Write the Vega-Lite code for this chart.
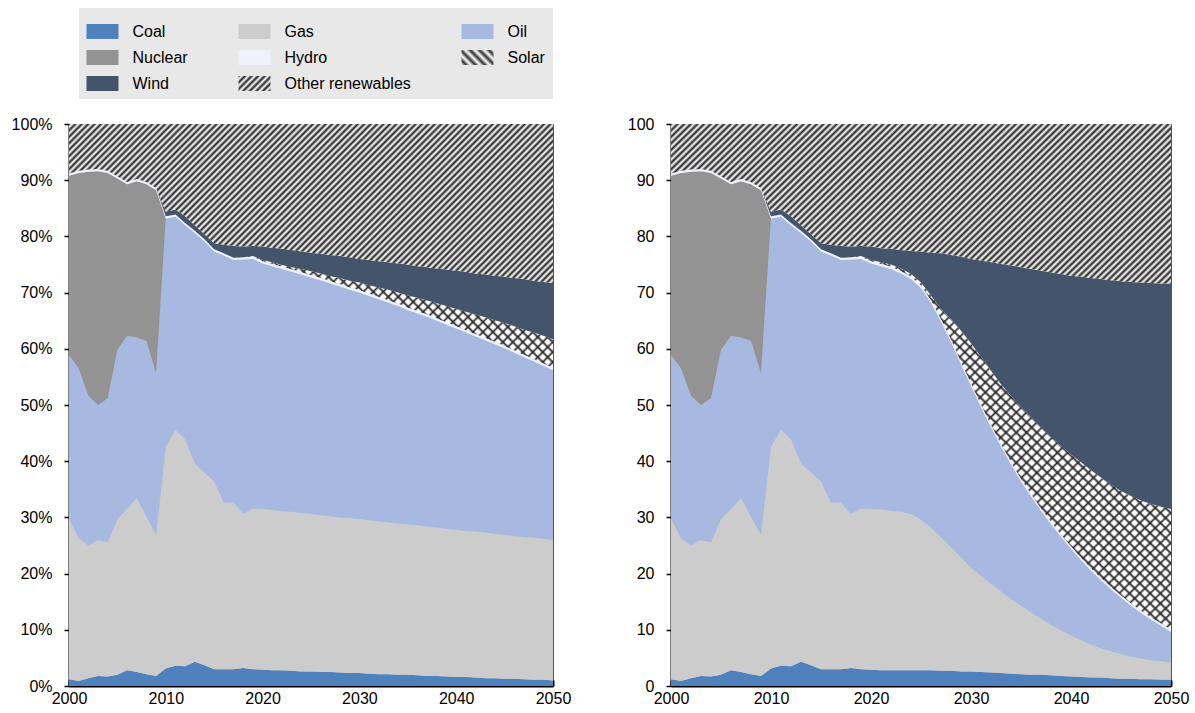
{
"$schema":"https://vega.github.io/schema/vega-lite/v6.json",
"padding":{"left":10,"top":8,"right":5,"bottom":5},
"background":"#ffffff",
"spacing":54,
"params":[
{"name":"gLegOther","value":{"gradient":"linear","x1":0,"y1":0,"x2":1.204,"y2":0.565,"stops":[{"offset":0,"color":"#222"},{"offset":0.07,"color":"#fff"},{"offset":0.14,"color":"#222"},{"offset":0.21,"color":"#fff"},{"offset":0.28,"color":"#222"},{"offset":0.35,"color":"#fff"},{"offset":0.42,"color":"#222"},{"offset":0.49,"color":"#fff"},{"offset":0.56,"color":"#222"},{"offset":0.63,"color":"#fff"},{"offset":0.7,"color":"#222"},{"offset":0.77,"color":"#fff"},{"offset":0.84,"color":"#222"},{"offset":0.91,"color":"#fff"},{"offset":0.98,"color":"#222"}]}},
{"name":"gLegSolar","value":{"gradient":"linear","x1":0,"y1":1,"x2":1.204,"y2":0.435,"stops":[{"offset":0,"color":"#fff"},{"offset":0.1,"color":"#333"},{"offset":0.2,"color":"#fff"},{"offset":0.3,"color":"#333"},{"offset":0.4,"color":"#fff"},{"offset":0.5,"color":"#333"},{"offset":0.6,"color":"#fff"},{"offset":0.7,"color":"#333"},{"offset":0.8,"color":"#fff"},{"offset":0.9,"color":"#333"},{"offset":1,"color":"#fff"}]}},
{"name":"gOther","value":{"gradient":"linear","x1":0,"y1":0,"x2":1.1987,"y2":0.3914,"stops":[
{"offset":0,"color":"#222"},{"offset":0.005,"color":"#fff"},{"offset":0.01,"color":"#222"},{"offset":0.015,"color":"#fff"},{"offset":0.02,"color":"#222"},{"offset":0.025,"color":"#fff"},{"offset":0.03,"color":"#222"},{"offset":0.035,"color":"#fff"},{"offset":0.04,"color":"#222"},{"offset":0.045,"color":"#fff"},
{"offset":0.05,"color":"#222"},{"offset":0.055,"color":"#fff"},{"offset":0.06,"color":"#222"},{"offset":0.065,"color":"#fff"},{"offset":0.07,"color":"#222"},{"offset":0.075,"color":"#fff"},{"offset":0.08,"color":"#222"},{"offset":0.085,"color":"#fff"},{"offset":0.09,"color":"#222"},{"offset":0.095,"color":"#fff"},
{"offset":0.1,"color":"#222"},{"offset":0.105,"color":"#fff"},{"offset":0.11,"color":"#222"},{"offset":0.115,"color":"#fff"},{"offset":0.12,"color":"#222"},{"offset":0.125,"color":"#fff"},{"offset":0.13,"color":"#222"},{"offset":0.135,"color":"#fff"},{"offset":0.14,"color":"#222"},{"offset":0.145,"color":"#fff"},
{"offset":0.15,"color":"#222"},{"offset":0.155,"color":"#fff"},{"offset":0.16,"color":"#222"},{"offset":0.165,"color":"#fff"},{"offset":0.17,"color":"#222"},{"offset":0.175,"color":"#fff"},{"offset":0.18,"color":"#222"},{"offset":0.185,"color":"#fff"},{"offset":0.19,"color":"#222"},{"offset":0.195,"color":"#fff"},
{"offset":0.2,"color":"#222"},{"offset":0.205,"color":"#fff"},{"offset":0.21,"color":"#222"},{"offset":0.215,"color":"#fff"},{"offset":0.22,"color":"#222"},{"offset":0.225,"color":"#fff"},{"offset":0.23,"color":"#222"},{"offset":0.235,"color":"#fff"},{"offset":0.24,"color":"#222"},{"offset":0.245,"color":"#fff"},
{"offset":0.25,"color":"#222"},{"offset":0.255,"color":"#fff"},{"offset":0.26,"color":"#222"},{"offset":0.265,"color":"#fff"},{"offset":0.27,"color":"#222"},{"offset":0.275,"color":"#fff"},{"offset":0.28,"color":"#222"},{"offset":0.285,"color":"#fff"},{"offset":0.29,"color":"#222"},{"offset":0.295,"color":"#fff"},
{"offset":0.3,"color":"#222"},{"offset":0.305,"color":"#fff"},{"offset":0.31,"color":"#222"},{"offset":0.315,"color":"#fff"},{"offset":0.32,"color":"#222"},{"offset":0.325,"color":"#fff"},{"offset":0.33,"color":"#222"},{"offset":0.335,"color":"#fff"},{"offset":0.34,"color":"#222"},{"offset":0.345,"color":"#fff"},
{"offset":0.35,"color":"#222"},{"offset":0.355,"color":"#fff"},{"offset":0.36,"color":"#222"},{"offset":0.365,"color":"#fff"},{"offset":0.37,"color":"#222"},{"offset":0.375,"color":"#fff"},{"offset":0.38,"color":"#222"},{"offset":0.385,"color":"#fff"},{"offset":0.39,"color":"#222"},{"offset":0.395,"color":"#fff"},
{"offset":0.4,"color":"#222"},{"offset":0.405,"color":"#fff"},{"offset":0.41,"color":"#222"},{"offset":0.415,"color":"#fff"},{"offset":0.42,"color":"#222"},{"offset":0.425,"color":"#fff"},{"offset":0.43,"color":"#222"},{"offset":0.435,"color":"#fff"},{"offset":0.44,"color":"#222"},{"offset":0.445,"color":"#fff"},
{"offset":0.45,"color":"#222"},{"offset":0.455,"color":"#fff"},{"offset":0.46,"color":"#222"},{"offset":0.465,"color":"#fff"},{"offset":0.47,"color":"#222"},{"offset":0.475,"color":"#fff"},{"offset":0.48,"color":"#222"},{"offset":0.485,"color":"#fff"},{"offset":0.49,"color":"#222"},{"offset":0.495,"color":"#fff"},
{"offset":0.5,"color":"#222"},{"offset":0.505,"color":"#fff"},{"offset":0.51,"color":"#222"},{"offset":0.515,"color":"#fff"},{"offset":0.52,"color":"#222"},{"offset":0.525,"color":"#fff"},{"offset":0.53,"color":"#222"},{"offset":0.535,"color":"#fff"},{"offset":0.54,"color":"#222"},{"offset":0.545,"color":"#fff"},
{"offset":0.55,"color":"#222"},{"offset":0.555,"color":"#fff"},{"offset":0.56,"color":"#222"},{"offset":0.565,"color":"#fff"},{"offset":0.57,"color":"#222"},{"offset":0.575,"color":"#fff"},{"offset":0.58,"color":"#222"},{"offset":0.585,"color":"#fff"},{"offset":0.59,"color":"#222"},{"offset":0.595,"color":"#fff"},
{"offset":0.6,"color":"#222"},{"offset":0.605,"color":"#fff"},{"offset":0.61,"color":"#222"},{"offset":0.615,"color":"#fff"},{"offset":0.62,"color":"#222"},{"offset":0.625,"color":"#fff"},{"offset":0.63,"color":"#222"},{"offset":0.635,"color":"#fff"},{"offset":0.64,"color":"#222"},{"offset":0.645,"color":"#fff"},
{"offset":0.65,"color":"#222"},{"offset":0.655,"color":"#fff"},{"offset":0.66,"color":"#222"},{"offset":0.665,"color":"#fff"},{"offset":0.67,"color":"#222"},{"offset":0.675,"color":"#fff"},{"offset":0.68,"color":"#222"},{"offset":0.685,"color":"#fff"},{"offset":0.69,"color":"#222"},{"offset":0.695,"color":"#fff"},
{"offset":0.7,"color":"#222"},{"offset":0.705,"color":"#fff"},{"offset":0.71,"color":"#222"},{"offset":0.715,"color":"#fff"},{"offset":0.72,"color":"#222"},{"offset":0.725,"color":"#fff"},{"offset":0.73,"color":"#222"},{"offset":0.735,"color":"#fff"},{"offset":0.74,"color":"#222"},{"offset":0.745,"color":"#fff"},
{"offset":0.75,"color":"#222"},{"offset":0.755,"color":"#fff"},{"offset":0.76,"color":"#222"},{"offset":0.765,"color":"#fff"},{"offset":0.77,"color":"#222"},{"offset":0.775,"color":"#fff"},{"offset":0.78,"color":"#222"},{"offset":0.785,"color":"#fff"},{"offset":0.79,"color":"#222"},{"offset":0.795,"color":"#fff"},
{"offset":0.8,"color":"#222"},{"offset":0.805,"color":"#fff"},{"offset":0.81,"color":"#222"},{"offset":0.815,"color":"#fff"},{"offset":0.82,"color":"#222"},{"offset":0.825,"color":"#fff"},{"offset":0.83,"color":"#222"},{"offset":0.835,"color":"#fff"},{"offset":0.84,"color":"#222"},{"offset":0.845,"color":"#fff"},
{"offset":0.85,"color":"#222"},{"offset":0.855,"color":"#fff"},{"offset":0.86,"color":"#222"},{"offset":0.865,"color":"#fff"},{"offset":0.87,"color":"#222"},{"offset":0.875,"color":"#fff"},{"offset":0.88,"color":"#222"},{"offset":0.885,"color":"#fff"},{"offset":0.89,"color":"#222"},{"offset":0.895,"color":"#fff"},
{"offset":0.9,"color":"#222"},{"offset":0.905,"color":"#fff"},{"offset":0.91,"color":"#222"},{"offset":0.915,"color":"#fff"},{"offset":0.92,"color":"#222"},{"offset":0.925,"color":"#fff"},{"offset":0.93,"color":"#222"},{"offset":0.935,"color":"#fff"},{"offset":0.94,"color":"#222"},{"offset":0.945,"color":"#fff"},
{"offset":0.95,"color":"#222"},{"offset":0.955,"color":"#fff"},{"offset":0.96,"color":"#222"},{"offset":0.965,"color":"#fff"},{"offset":0.97,"color":"#222"},{"offset":0.975,"color":"#fff"},{"offset":0.98,"color":"#222"},{"offset":0.985,"color":"#fff"},{"offset":0.99,"color":"#222"},{"offset":0.995,"color":"#fff"},
{"offset":1,"color":"#222"}
]}},
{"name":"gSolarA","value":{"gradient":"linear","x1":0,"y1":0,"x2":0.9705,"y2":1.0279,"stops":[
{"offset":0,"color":"#fff"},
{"offset":0.25,"color":"#fff"},{"offset":0.255,"color":"#fff"},{"offset":0.2575,"color":"#333"},
{"offset":0.26,"color":"#fff"},{"offset":0.265,"color":"#fff"},{"offset":0.2675,"color":"#333"},
{"offset":0.27,"color":"#fff"},{"offset":0.275,"color":"#fff"},{"offset":0.2775,"color":"#333"},
{"offset":0.28,"color":"#fff"},{"offset":0.285,"color":"#fff"},{"offset":0.2875,"color":"#333"},
{"offset":0.29,"color":"#fff"},{"offset":0.295,"color":"#fff"},{"offset":0.2975,"color":"#333"},
{"offset":0.3,"color":"#fff"},{"offset":0.305,"color":"#fff"},{"offset":0.3075,"color":"#333"},
{"offset":0.31,"color":"#fff"},{"offset":0.315,"color":"#fff"},{"offset":0.3175,"color":"#333"},
{"offset":0.32,"color":"#fff"},{"offset":0.325,"color":"#fff"},{"offset":0.3275,"color":"#333"},
{"offset":0.33,"color":"#fff"},{"offset":0.335,"color":"#fff"},{"offset":0.3375,"color":"#333"},
{"offset":0.34,"color":"#fff"},{"offset":0.345,"color":"#fff"},{"offset":0.3475,"color":"#333"},
{"offset":0.35,"color":"#fff"},{"offset":0.355,"color":"#fff"},{"offset":0.3575,"color":"#333"},
{"offset":0.36,"color":"#fff"},{"offset":0.365,"color":"#fff"},{"offset":0.3675,"color":"#333"},
{"offset":0.37,"color":"#fff"},{"offset":0.375,"color":"#fff"},{"offset":0.3775,"color":"#333"},
{"offset":0.38,"color":"#fff"},{"offset":0.385,"color":"#fff"},{"offset":0.3875,"color":"#333"},
{"offset":0.39,"color":"#fff"},{"offset":0.395,"color":"#fff"},{"offset":0.3975,"color":"#333"},
{"offset":0.4,"color":"#fff"},{"offset":0.405,"color":"#fff"},{"offset":0.4075,"color":"#333"},
{"offset":0.41,"color":"#fff"},{"offset":0.415,"color":"#fff"},{"offset":0.4175,"color":"#333"},
{"offset":0.42,"color":"#fff"},{"offset":0.425,"color":"#fff"},{"offset":0.4275,"color":"#333"},
{"offset":0.43,"color":"#fff"},{"offset":0.435,"color":"#fff"},{"offset":0.4375,"color":"#333"},
{"offset":0.44,"color":"#fff"},{"offset":0.445,"color":"#fff"},{"offset":0.4475,"color":"#333"},
{"offset":0.45,"color":"#fff"},{"offset":0.455,"color":"#fff"},{"offset":0.4575,"color":"#333"},
{"offset":0.46,"color":"#fff"},{"offset":0.465,"color":"#fff"},{"offset":0.4675,"color":"#333"},
{"offset":0.47,"color":"#fff"},{"offset":0.475,"color":"#fff"},{"offset":0.4775,"color":"#333"},
{"offset":0.48,"color":"#fff"},{"offset":0.485,"color":"#fff"},{"offset":0.4875,"color":"#333"},
{"offset":0.49,"color":"#fff"},{"offset":0.495,"color":"#fff"},{"offset":0.4975,"color":"#333"},
{"offset":0.5,"color":"#fff"},{"offset":0.505,"color":"#fff"},{"offset":0.5075,"color":"#333"},
{"offset":0.51,"color":"#fff"},{"offset":0.515,"color":"#fff"},{"offset":0.5175,"color":"#333"},
{"offset":0.52,"color":"#fff"},{"offset":0.525,"color":"#fff"},{"offset":0.5275,"color":"#333"},
{"offset":0.53,"color":"#fff"},{"offset":0.535,"color":"#fff"},{"offset":0.5375,"color":"#333"},
{"offset":0.54,"color":"#fff"},{"offset":0.545,"color":"#fff"},{"offset":0.5475,"color":"#333"},
{"offset":0.55,"color":"#fff"},{"offset":0.555,"color":"#fff"},{"offset":0.5575,"color":"#333"},
{"offset":0.56,"color":"#fff"},{"offset":0.565,"color":"#fff"},{"offset":0.5675,"color":"#333"},
{"offset":0.57,"color":"#fff"},{"offset":0.575,"color":"#fff"},{"offset":0.5775,"color":"#333"},
{"offset":0.58,"color":"#fff"},{"offset":0.585,"color":"#fff"},{"offset":0.5875,"color":"#333"},
{"offset":0.59,"color":"#fff"},{"offset":0.595,"color":"#fff"},{"offset":0.5975,"color":"#333"},
{"offset":0.6,"color":"#fff"},{"offset":0.605,"color":"#fff"},{"offset":0.6075,"color":"#333"},
{"offset":0.61,"color":"#fff"},{"offset":0.615,"color":"#fff"},{"offset":0.6175,"color":"#333"},
{"offset":0.62,"color":"#fff"},{"offset":0.625,"color":"#fff"},{"offset":0.6275,"color":"#333"},
{"offset":0.63,"color":"#fff"},{"offset":0.635,"color":"#fff"},{"offset":0.6375,"color":"#333"},
{"offset":0.64,"color":"#fff"},{"offset":0.645,"color":"#fff"},{"offset":0.6475,"color":"#333"},
{"offset":0.65,"color":"#fff"},{"offset":0.655,"color":"#fff"},{"offset":0.6575,"color":"#333"},
{"offset":0.66,"color":"#fff"},{"offset":0.665,"color":"#fff"},{"offset":0.6675,"color":"#333"},
{"offset":0.67,"color":"#fff"},{"offset":0.675,"color":"#fff"},{"offset":0.6775,"color":"#333"},
{"offset":0.68,"color":"#fff"},{"offset":0.685,"color":"#fff"},{"offset":0.6875,"color":"#333"},
{"offset":0.69,"color":"#fff"},{"offset":0.695,"color":"#fff"},{"offset":0.6975,"color":"#333"},
{"offset":0.7,"color":"#fff"},{"offset":0.705,"color":"#fff"},{"offset":0.7075,"color":"#333"},
{"offset":0.71,"color":"#fff"},{"offset":0.715,"color":"#fff"},{"offset":0.7175,"color":"#333"},
{"offset":0.72,"color":"#fff"},{"offset":0.725,"color":"#fff"},{"offset":0.7275,"color":"#333"},
{"offset":0.73,"color":"#fff"},{"offset":0.735,"color":"#fff"},{"offset":0.7375,"color":"#333"},
{"offset":0.74,"color":"#fff"},{"offset":0.745,"color":"#fff"},{"offset":0.7475,"color":"#333"},
{"offset":0.75,"color":"#fff"},{"offset":0.755,"color":"#fff"},{"offset":0.7575,"color":"#333"},
{"offset":0.76,"color":"#fff"},{"offset":0.765,"color":"#fff"},{"offset":0.7675,"color":"#333"},
{"offset":0.77,"color":"#fff"},{"offset":0.775,"color":"#fff"},{"offset":0.7775,"color":"#333"},
{"offset":0.78,"color":"#fff"},{"offset":0.785,"color":"#fff"},{"offset":0.7875,"color":"#333"},
{"offset":0.79,"color":"#fff"},{"offset":0.795,"color":"#fff"},{"offset":0.7975,"color":"#333"},
{"offset":0.8,"color":"#fff"},{"offset":0.805,"color":"#fff"},{"offset":0.8075,"color":"#333"},
{"offset":0.81,"color":"#fff"},{"offset":0.815,"color":"#fff"},{"offset":0.8175,"color":"#333"},
{"offset":0.82,"color":"#fff"},{"offset":0.825,"color":"#fff"},{"offset":0.8275,"color":"#333"},
{"offset":0.83,"color":"#fff"},{"offset":0.835,"color":"#fff"},{"offset":0.8375,"color":"#333"},
{"offset":0.84,"color":"#fff"},{"offset":0.845,"color":"#fff"},{"offset":0.8475,"color":"#333"},
{"offset":0.85,"color":"#fff"},{"offset":0.855,"color":"#fff"},{"offset":0.8575,"color":"#333"},
{"offset":0.86,"color":"#fff"},{"offset":0.865,"color":"#fff"},{"offset":0.8675,"color":"#333"},
{"offset":0.87,"color":"#fff"},{"offset":0.875,"color":"#fff"},{"offset":0.8775,"color":"#333"},
{"offset":0.88,"color":"#fff"},{"offset":0.885,"color":"#fff"},{"offset":0.8875,"color":"#333"},
{"offset":0.89,"color":"#fff"},{"offset":0.895,"color":"#fff"},{"offset":0.8975,"color":"#333"},
{"offset":0.9,"color":"#fff"},{"offset":0.905,"color":"#fff"},{"offset":0.9075,"color":"#333"},
{"offset":0.91,"color":"#fff"},{"offset":0.915,"color":"#fff"},{"offset":0.9175,"color":"#333"},
{"offset":0.92,"color":"#fff"},{"offset":0.925,"color":"#fff"},{"offset":0.9275,"color":"#333"},
{"offset":0.93,"color":"#fff"},{"offset":0.935,"color":"#fff"},{"offset":0.9375,"color":"#333"},
{"offset":0.94,"color":"#fff"},{"offset":0.945,"color":"#fff"},{"offset":0.9475,"color":"#333"},
{"offset":0.95,"color":"#fff"},{"offset":0.955,"color":"#fff"},{"offset":0.9575,"color":"#333"},
{"offset":0.96,"color":"#fff"},{"offset":1,"color":"#fff"}
]}},
{"name":"gSolarB","value":{"gradient":"linear","x1":0,"y1":1,"x2":0.9705,"y2":-0.0279,"stops":[
{"offset":0,"color":"transparent"},
{"offset":0.5,"color":"transparent"},{"offset":0.505,"color":"transparent"},{"offset":0.5075,"color":"#333"},
{"offset":0.51,"color":"transparent"},{"offset":0.515,"color":"transparent"},{"offset":0.5175,"color":"#333"},
{"offset":0.52,"color":"transparent"},{"offset":0.525,"color":"transparent"},{"offset":0.5275,"color":"#333"},
{"offset":0.53,"color":"transparent"},{"offset":0.535,"color":"transparent"},{"offset":0.5375,"color":"#333"},
{"offset":0.54,"color":"transparent"},{"offset":0.545,"color":"transparent"},{"offset":0.5475,"color":"#333"},
{"offset":0.55,"color":"transparent"},{"offset":0.555,"color":"transparent"},{"offset":0.5575,"color":"#333"},
{"offset":0.56,"color":"transparent"},{"offset":0.565,"color":"transparent"},{"offset":0.5675,"color":"#333"},
{"offset":0.57,"color":"transparent"},{"offset":0.575,"color":"transparent"},{"offset":0.5775,"color":"#333"},
{"offset":0.58,"color":"transparent"},{"offset":0.585,"color":"transparent"},{"offset":0.5875,"color":"#333"},
{"offset":0.59,"color":"transparent"},{"offset":0.595,"color":"transparent"},{"offset":0.5975,"color":"#333"},
{"offset":0.6,"color":"transparent"},{"offset":0.605,"color":"transparent"},{"offset":0.6075,"color":"#333"},
{"offset":0.61,"color":"transparent"},{"offset":0.615,"color":"transparent"},{"offset":0.6175,"color":"#333"},
{"offset":0.62,"color":"transparent"},{"offset":0.625,"color":"transparent"},{"offset":0.6275,"color":"#333"},
{"offset":0.63,"color":"transparent"},{"offset":0.635,"color":"transparent"},{"offset":0.6375,"color":"#333"},
{"offset":0.64,"color":"transparent"},{"offset":0.645,"color":"transparent"},{"offset":0.6475,"color":"#333"},
{"offset":0.65,"color":"transparent"},{"offset":0.655,"color":"transparent"},{"offset":0.6575,"color":"#333"},
{"offset":0.66,"color":"transparent"},{"offset":0.665,"color":"transparent"},{"offset":0.6675,"color":"#333"},
{"offset":0.67,"color":"transparent"},{"offset":0.675,"color":"transparent"},{"offset":0.6775,"color":"#333"},
{"offset":0.68,"color":"transparent"},{"offset":0.685,"color":"transparent"},{"offset":0.6875,"color":"#333"},
{"offset":0.69,"color":"transparent"},{"offset":0.695,"color":"transparent"},{"offset":0.6975,"color":"#333"},
{"offset":0.7,"color":"transparent"},{"offset":0.705,"color":"transparent"},{"offset":0.7075,"color":"#333"},
{"offset":0.71,"color":"transparent"},{"offset":0.715,"color":"transparent"},{"offset":0.7175,"color":"#333"},
{"offset":0.72,"color":"transparent"},{"offset":0.725,"color":"transparent"},{"offset":0.7275,"color":"#333"},
{"offset":0.73,"color":"transparent"},{"offset":0.735,"color":"transparent"},{"offset":0.7375,"color":"#333"},
{"offset":0.74,"color":"transparent"},{"offset":0.745,"color":"transparent"},{"offset":0.7475,"color":"#333"},
{"offset":0.75,"color":"transparent"},{"offset":0.755,"color":"transparent"},{"offset":0.7575,"color":"#333"},
{"offset":0.76,"color":"transparent"},{"offset":0.765,"color":"transparent"},{"offset":0.7675,"color":"#333"},
{"offset":0.77,"color":"transparent"},{"offset":0.775,"color":"transparent"},{"offset":0.7775,"color":"#333"},
{"offset":0.78,"color":"transparent"},{"offset":0.785,"color":"transparent"},{"offset":0.7875,"color":"#333"},
{"offset":0.79,"color":"transparent"},{"offset":0.795,"color":"transparent"},{"offset":0.7975,"color":"#333"},
{"offset":0.8,"color":"transparent"},{"offset":0.805,"color":"transparent"},{"offset":0.8075,"color":"#333"},
{"offset":0.81,"color":"transparent"},{"offset":0.815,"color":"transparent"},{"offset":0.8175,"color":"#333"},
{"offset":0.82,"color":"transparent"},{"offset":0.825,"color":"transparent"},{"offset":0.8275,"color":"#333"},
{"offset":0.83,"color":"transparent"},{"offset":0.835,"color":"transparent"},{"offset":0.8375,"color":"#333"},
{"offset":0.84,"color":"transparent"},{"offset":0.845,"color":"transparent"},{"offset":0.8475,"color":"#333"},
{"offset":0.85,"color":"transparent"},{"offset":0.855,"color":"transparent"},{"offset":0.8575,"color":"#333"},
{"offset":0.86,"color":"transparent"},{"offset":1,"color":"transparent"}
]}}
],
"datasets":{
"left":[
{"year":2000,"Coal":1.2,"Gas":28.6,"Oil":29.1,"Nuclear":31.9,"Hydro":0.4,"Solar":0,"Wind":0,"Other renewables":8.8},
{"year":2001,"Coal":0.9,"Gas":25.4,"Oil":30.2,"Nuclear":34.8,"Hydro":0.4,"Solar":0,"Wind":0,"Other renewables":8.3},
{"year":2002,"Coal":1.4,"Gas":23.6,"Oil":26.6,"Nuclear":39.9,"Hydro":0.4,"Solar":0,"Wind":0,"Other renewables":8.1},
{"year":2003,"Coal":1.8,"Gas":24.2,"Oil":24.0,"Nuclear":41.6,"Hydro":0.4,"Solar":0,"Wind":0,"Other renewables":8.0},
{"year":2004,"Coal":1.7,"Gas":23.9,"Oil":25.6,"Nuclear":40.1,"Hydro":0.4,"Solar":0,"Wind":0,"Other renewables":8.3},
{"year":2005,"Coal":2.0,"Gas":27.7,"Oil":30.1,"Nuclear":30.5,"Hydro":0.4,"Solar":0,"Wind":0,"Other renewables":9.3},
{"year":2006,"Coal":2.8,"Gas":28.7,"Oil":30.8,"Nuclear":27.0,"Hydro":0.4,"Solar":0,"Wind":0,"Other renewables":10.3},
{"year":2007,"Coal":2.5,"Gas":31.0,"Oil":28.5,"Nuclear":27.8,"Hydro":0.4,"Solar":0,"Wind":0,"Other renewables":9.8},
{"year":2008,"Coal":2.1,"Gas":28.0,"Oil":31.3,"Nuclear":27.9,"Hydro":0.4,"Solar":0,"Wind":0,"Other renewables":10.3},
{"year":2009,"Coal":1.8,"Gas":25.1,"Oil":28.7,"Nuclear":32.6,"Hydro":0.4,"Solar":0,"Wind":0,"Other renewables":11.4},
{"year":2010,"Coal":3.1,"Gas":39.5,"Oil":40.6,"Nuclear":0,"Hydro":0.4,"Solar":0,"Wind":0.8,"Other renewables":15.6},
{"year":2011,"Coal":3.6,"Gas":42.0,"Oil":37.9,"Nuclear":0,"Hydro":0.4,"Solar":0,"Wind":0.9,"Other renewables":15.2},
{"year":2012,"Coal":3.5,"Gas":40.4,"Oil":38.1,"Nuclear":0,"Hydro":0.4,"Solar":0,"Wind":1.2,"Other renewables":16.4},
{"year":2013,"Coal":4.3,"Gas":35.3,"Oil":41.0,"Nuclear":0,"Hydro":0.4,"Solar":0,"Wind":1.0,"Other renewables":18.0},
{"year":2014,"Coal":3.7,"Gas":34.3,"Oil":41.1,"Nuclear":0,"Hydro":0.4,"Solar":0,"Wind":0.9,"Other renewables":19.6},
{"year":2015,"Coal":3.0,"Gas":33.4,"Oil":40.9,"Nuclear":0,"Hydro":0.4,"Solar":0,"Wind":1.1,"Other renewables":21.2},
{"year":2016,"Coal":3.0,"Gas":29.6,"Oil":44.0,"Nuclear":0,"Hydro":0.4,"Solar":0,"Wind":1.5,"Other renewables":21.5},
{"year":2017,"Coal":3.0,"Gas":29.7,"Oil":43.1,"Nuclear":0,"Hydro":0.4,"Solar":0,"Wind":2.1,"Other renewables":21.7},
{"year":2018,"Coal":3.2,"Gas":27.4,"Oil":45.3,"Nuclear":0,"Hydro":0.4,"Solar":0,"Wind":1.9,"Other renewables":21.8},
{"year":2019,"Coal":3.0,"Gas":28.6,"Oil":44.4,"Nuclear":0,"Hydro":0.4,"Solar":0.1,"Wind":1.8,"Other renewables":21.7},
{"year":2020,"Coal":2.9,"Gas":28.6,"Oil":43.7,"Nuclear":0,"Hydro":0.4,"Solar":0.2,"Wind":2.4,"Other renewables":21.8},
{"year":2021,"Coal":2.8,"Gas":28.5,"Oil":43.4,"Nuclear":0,"Hydro":0.4,"Solar":0.3,"Wind":2.6,"Other renewables":22.0},
{"year":2022,"Coal":2.8,"Gas":28.3,"Oil":43.1,"Nuclear":0,"Hydro":0.4,"Solar":0.3,"Wind":2.9,"Other renewables":22.2},
{"year":2023,"Coal":2.7,"Gas":28.3,"Oil":42.7,"Nuclear":0,"Hydro":0.4,"Solar":0.4,"Wind":3.1,"Other renewables":22.4},
{"year":2024,"Coal":2.6,"Gas":28.2,"Oil":42.4,"Nuclear":0,"Hydro":0.4,"Solar":0.6,"Wind":3.1,"Other renewables":22.7},
{"year":2025,"Coal":2.6,"Gas":28.0,"Oil":42.1,"Nuclear":0,"Hydro":0.4,"Solar":0.7,"Wind":3.3,"Other renewables":22.9},
{"year":2026,"Coal":2.5,"Gas":27.9,"Oil":41.8,"Nuclear":0,"Hydro":0.4,"Solar":0.8,"Wind":3.5,"Other renewables":23.1},
{"year":2027,"Coal":2.5,"Gas":27.7,"Oil":41.4,"Nuclear":0,"Hydro":0.4,"Solar":0.9,"Wind":3.8,"Other renewables":23.3},
{"year":2028,"Coal":2.4,"Gas":27.6,"Oil":41.1,"Nuclear":0,"Hydro":0.4,"Solar":1.1,"Wind":3.9,"Other renewables":23.5},
{"year":2029,"Coal":2.3,"Gas":27.6,"Oil":40.6,"Nuclear":0,"Hydro":0.4,"Solar":1.2,"Wind":4.2,"Other renewables":23.7},
{"year":2030,"Coal":2.3,"Gas":27.4,"Oil":40.3,"Nuclear":0,"Hydro":0.4,"Solar":1.4,"Wind":4.2,"Other renewables":24.0},
{"year":2031,"Coal":2.2,"Gas":27.3,"Oil":39.9,"Nuclear":0,"Hydro":0.4,"Solar":1.5,"Wind":4.5,"Other renewables":24.2},
{"year":2032,"Coal":2.1,"Gas":27.2,"Oil":39.5,"Nuclear":0,"Hydro":0.4,"Solar":1.7,"Wind":4.7,"Other renewables":24.4},
{"year":2033,"Coal":2.1,"Gas":27.0,"Oil":39.1,"Nuclear":0,"Hydro":0.4,"Solar":1.9,"Wind":4.9,"Other renewables":24.6},
{"year":2034,"Coal":2.0,"Gas":26.9,"Oil":38.7,"Nuclear":0,"Hydro":0.4,"Solar":2.0,"Wind":5.2,"Other renewables":24.8},
{"year":2035,"Coal":2.0,"Gas":26.8,"Oil":38.1,"Nuclear":0,"Hydro":0.4,"Solar":2.2,"Wind":5.5,"Other renewables":25.0},
{"year":2036,"Coal":1.9,"Gas":26.7,"Oil":37.7,"Nuclear":0,"Hydro":0.4,"Solar":2.4,"Wind":5.6,"Other renewables":25.3},
{"year":2037,"Coal":1.8,"Gas":26.6,"Oil":37.3,"Nuclear":0,"Hydro":0.4,"Solar":2.5,"Wind":5.9,"Other renewables":25.5},
{"year":2038,"Coal":1.8,"Gas":26.4,"Oil":36.8,"Nuclear":0,"Hydro":0.4,"Solar":2.7,"Wind":6.2,"Other renewables":25.7},
{"year":2039,"Coal":1.7,"Gas":26.3,"Oil":36.3,"Nuclear":0,"Hydro":0.4,"Solar":2.9,"Wind":6.5,"Other renewables":25.9},
{"year":2040,"Coal":1.6,"Gas":26.2,"Oil":35.8,"Nuclear":0,"Hydro":0.4,"Solar":3.1,"Wind":6.8,"Other renewables":26.1},
{"year":2041,"Coal":1.6,"Gas":26.0,"Oil":35.3,"Nuclear":0,"Hydro":0.4,"Solar":3.3,"Wind":7.1,"Other renewables":26.3},
{"year":2042,"Coal":1.5,"Gas":26.0,"Oil":34.7,"Nuclear":0,"Hydro":0.4,"Solar":3.5,"Wind":7.3,"Other renewables":26.6},
{"year":2043,"Coal":1.4,"Gas":25.9,"Oil":34.2,"Nuclear":0,"Hydro":0.4,"Solar":3.7,"Wind":7.6,"Other renewables":26.8},
{"year":2044,"Coal":1.4,"Gas":25.7,"Oil":33.7,"Nuclear":0,"Hydro":0.4,"Solar":3.9,"Wind":7.9,"Other renewables":27.0},
{"year":2045,"Coal":1.3,"Gas":25.6,"Oil":33.2,"Nuclear":0,"Hydro":0.4,"Solar":4.1,"Wind":8.2,"Other renewables":27.2},
{"year":2046,"Coal":1.3,"Gas":25.4,"Oil":32.6,"Nuclear":0,"Hydro":0.4,"Solar":4.3,"Wind":8.6,"Other renewables":27.4},
{"year":2047,"Coal":1.2,"Gas":25.3,"Oil":32.0,"Nuclear":0,"Hydro":0.4,"Solar":4.5,"Wind":9.0,"Other renewables":27.6},
{"year":2048,"Coal":1.1,"Gas":25.3,"Oil":31.4,"Nuclear":0,"Hydro":0.4,"Solar":4.7,"Wind":9.2,"Other renewables":27.9},
{"year":2049,"Coal":1.1,"Gas":25.1,"Oil":30.8,"Nuclear":0,"Hydro":0.4,"Solar":4.9,"Wind":9.6,"Other renewables":28.1},
{"year":2050,"Coal":1.0,"Gas":25.0,"Oil":30.2,"Nuclear":0,"Hydro":0.4,"Solar":5.1,"Wind":10.0,"Other renewables":28.3}
],
"right":[
{"year":2000,"Coal":1.2,"Gas":28.6,"Oil":29.1,"Nuclear":31.9,"Hydro":0.4,"Solar":0,"Wind":0,"Other renewables":8.8},
{"year":2001,"Coal":0.9,"Gas":25.4,"Oil":30.2,"Nuclear":34.8,"Hydro":0.4,"Solar":0,"Wind":0,"Other renewables":8.3},
{"year":2002,"Coal":1.4,"Gas":23.6,"Oil":26.6,"Nuclear":39.9,"Hydro":0.4,"Solar":0,"Wind":0,"Other renewables":8.1},
{"year":2003,"Coal":1.8,"Gas":24.2,"Oil":24.0,"Nuclear":41.6,"Hydro":0.4,"Solar":0,"Wind":0,"Other renewables":8.0},
{"year":2004,"Coal":1.7,"Gas":23.9,"Oil":25.6,"Nuclear":40.1,"Hydro":0.4,"Solar":0,"Wind":0,"Other renewables":8.3},
{"year":2005,"Coal":2.0,"Gas":27.7,"Oil":30.1,"Nuclear":30.5,"Hydro":0.4,"Solar":0,"Wind":0,"Other renewables":9.3},
{"year":2006,"Coal":2.8,"Gas":28.7,"Oil":30.8,"Nuclear":27.0,"Hydro":0.4,"Solar":0,"Wind":0,"Other renewables":10.3},
{"year":2007,"Coal":2.5,"Gas":31.0,"Oil":28.5,"Nuclear":27.8,"Hydro":0.4,"Solar":0,"Wind":0,"Other renewables":9.8},
{"year":2008,"Coal":2.1,"Gas":28.0,"Oil":31.3,"Nuclear":27.9,"Hydro":0.4,"Solar":0,"Wind":0,"Other renewables":10.3},
{"year":2009,"Coal":1.8,"Gas":25.1,"Oil":28.7,"Nuclear":32.6,"Hydro":0.4,"Solar":0,"Wind":0,"Other renewables":11.4},
{"year":2010,"Coal":3.1,"Gas":39.5,"Oil":40.6,"Nuclear":0,"Hydro":0.4,"Solar":0,"Wind":0.8,"Other renewables":15.6},
{"year":2011,"Coal":3.6,"Gas":42.0,"Oil":37.9,"Nuclear":0,"Hydro":0.4,"Solar":0,"Wind":0.9,"Other renewables":15.2},
{"year":2012,"Coal":3.5,"Gas":40.4,"Oil":38.1,"Nuclear":0,"Hydro":0.4,"Solar":0,"Wind":1.2,"Other renewables":16.4},
{"year":2013,"Coal":4.3,"Gas":35.3,"Oil":41.0,"Nuclear":0,"Hydro":0.4,"Solar":0,"Wind":1.0,"Other renewables":18.0},
{"year":2014,"Coal":3.7,"Gas":34.3,"Oil":41.1,"Nuclear":0,"Hydro":0.4,"Solar":0,"Wind":0.9,"Other renewables":19.6},
{"year":2015,"Coal":3.0,"Gas":33.4,"Oil":40.9,"Nuclear":0,"Hydro":0.4,"Solar":0,"Wind":1.1,"Other renewables":21.2},
{"year":2016,"Coal":3.0,"Gas":29.6,"Oil":44.0,"Nuclear":0,"Hydro":0.4,"Solar":0,"Wind":1.5,"Other renewables":21.5},
{"year":2017,"Coal":3.0,"Gas":29.7,"Oil":43.1,"Nuclear":0,"Hydro":0.4,"Solar":0,"Wind":2.1,"Other renewables":21.7},
{"year":2018,"Coal":3.2,"Gas":27.4,"Oil":45.3,"Nuclear":0,"Hydro":0.4,"Solar":0,"Wind":1.9,"Other renewables":21.8},
{"year":2019,"Coal":3.0,"Gas":28.6,"Oil":44.4,"Nuclear":0,"Hydro":0.4,"Solar":0.1,"Wind":1.8,"Other renewables":21.7},
{"year":2020,"Coal":2.9,"Gas":28.6,"Oil":43.7,"Nuclear":0,"Hydro":0.4,"Solar":0.2,"Wind":2.4,"Other renewables":21.8},
{"year":2021,"Coal":2.8,"Gas":28.6,"Oil":43.3,"Nuclear":0,"Hydro":0.4,"Solar":0.3,"Wind":2.5,"Other renewables":22.1},
{"year":2022,"Coal":2.8,"Gas":28.4,"Oil":43.0,"Nuclear":0,"Hydro":0.4,"Solar":0.4,"Wind":2.8,"Other renewables":22.2},
{"year":2023,"Coal":2.8,"Gas":28.2,"Oil":42.4,"Nuclear":0,"Hydro":0.4,"Solar":0.5,"Wind":3.3,"Other renewables":22.4},
{"year":2024,"Coal":2.8,"Gas":27.8,"Oil":41.8,"Nuclear":0,"Hydro":0.4,"Solar":0.5,"Wind":4.1,"Other renewables":22.6},
{"year":2025,"Coal":2.8,"Gas":26.8,"Oil":41.2,"Nuclear":0,"Hydro":0.4,"Solar":0.6,"Wind":5.5,"Other renewables":22.7},
{"year":2026,"Coal":2.8,"Gas":25.4,"Oil":40.0,"Nuclear":0,"Hydro":0.4,"Solar":0.9,"Wind":7.6,"Other renewables":22.9},
{"year":2027,"Coal":2.7,"Gas":23.8,"Oil":38.3,"Nuclear":0,"Hydro":0.4,"Solar":1.9,"Wind":9.9,"Other renewables":23.0},
{"year":2028,"Coal":2.7,"Gas":22.0,"Oil":36.5,"Nuclear":0,"Hydro":0.4,"Solar":3.7,"Wind":11.4,"Other renewables":23.3},
{"year":2029,"Coal":2.6,"Gas":20.3,"Oil":34.3,"Nuclear":0,"Hydro":0.4,"Solar":5.6,"Wind":13.2,"Other renewables":23.6},
{"year":2030,"Coal":2.6,"Gas":18.5,"Oil":32.3,"Nuclear":0,"Hydro":0.4,"Solar":7.2,"Wind":15.0,"Other renewables":24.0},
{"year":2031,"Coal":2.5,"Gas":17.1,"Oil":30.0,"Nuclear":0,"Hydro":0.4,"Solar":8.6,"Wind":17.1,"Other renewables":24.3},
{"year":2032,"Coal":2.4,"Gas":15.8,"Oil":27.8,"Nuclear":0,"Hydro":0.4,"Solar":9.7,"Wind":19.3,"Other renewables":24.6},
{"year":2033,"Coal":2.3,"Gas":14.5,"Oil":25.8,"Nuclear":0,"Hydro":0.4,"Solar":10.7,"Wind":21.4,"Other renewables":24.9},
{"year":2034,"Coal":2.2,"Gas":13.3,"Oil":23.9,"Nuclear":0,"Hydro":0.4,"Solar":11.8,"Wind":23.2,"Other renewables":25.2},
{"year":2035,"Coal":2.1,"Gas":12.2,"Oil":22.1,"Nuclear":0,"Hydro":0.4,"Solar":12.8,"Wind":24.9,"Other renewables":25.5},
{"year":2036,"Coal":2.0,"Gas":11.1,"Oil":20.6,"Nuclear":0,"Hydro":0.4,"Solar":13.7,"Wind":26.4,"Other renewables":25.8},
{"year":2037,"Coal":2.0,"Gas":10.0,"Oil":19.2,"Nuclear":0,"Hydro":0.4,"Solar":14.4,"Wind":27.9,"Other renewables":26.1},
{"year":2038,"Coal":1.9,"Gas":9.0,"Oil":17.9,"Nuclear":0,"Hydro":0.4,"Solar":15.1,"Wind":29.3,"Other renewables":26.4},
{"year":2039,"Coal":1.8,"Gas":8.1,"Oil":16.6,"Nuclear":0,"Hydro":0.4,"Solar":15.8,"Wind":30.6,"Other renewables":26.7},
{"year":2040,"Coal":1.7,"Gas":7.3,"Oil":15.4,"Nuclear":0,"Hydro":0.4,"Solar":16.4,"Wind":31.8,"Other renewables":27.0},
{"year":2041,"Coal":1.6,"Gas":6.6,"Oil":14.2,"Nuclear":0,"Hydro":0.4,"Solar":17.0,"Wind":33.0,"Other renewables":27.2},
{"year":2042,"Coal":1.5,"Gas":5.9,"Oil":13.1,"Nuclear":0,"Hydro":0.4,"Solar":17.5,"Wind":34.2,"Other renewables":27.4},
{"year":2043,"Coal":1.5,"Gas":5.2,"Oil":12.1,"Nuclear":0,"Hydro":0.4,"Solar":17.9,"Wind":35.3,"Other renewables":27.6},
{"year":2044,"Coal":1.4,"Gas":4.8,"Oil":11.0,"Nuclear":0,"Hydro":0.4,"Solar":18.2,"Wind":36.4,"Other renewables":27.8},
{"year":2045,"Coal":1.3,"Gas":4.4,"Oil":10.0,"Nuclear":0,"Hydro":0.4,"Solar":18.6,"Wind":37.3,"Other renewables":28.0},
{"year":2046,"Coal":1.3,"Gas":3.9,"Oil":9.1,"Nuclear":0,"Hydro":0.4,"Solar":19.1,"Wind":38.1,"Other renewables":28.1},
{"year":2047,"Coal":1.2,"Gas":3.7,"Oil":8.1,"Nuclear":0,"Hydro":0.4,"Solar":19.6,"Wind":38.8,"Other renewables":28.2},
{"year":2048,"Coal":1.2,"Gas":3.4,"Oil":7.2,"Nuclear":0,"Hydro":0.4,"Solar":20.2,"Wind":39.3,"Other renewables":28.3},
{"year":2049,"Coal":1.1,"Gas":3.3,"Oil":6.3,"Nuclear":0,"Hydro":0.4,"Solar":20.8,"Wind":39.7,"Other renewables":28.4},
{"year":2050,"Coal":1.1,"Gas":3.1,"Oil":5.4,"Nuclear":0,"Hydro":0.4,"Solar":21.5,"Wind":40.1,"Other renewables":28.4}
]
},
"hconcat":[
{
"width":484,"height":562,
"data":{"name":"left"},
"transform":[
{"fold":["Coal","Gas","Oil","Nuclear","Hydro","Solar","Wind","Other renewables"],"as":["key","value"]},
{"stack":"value","groupby":["year"],"as":["y0","y1"]}
],
"encoding":{
"x":{"field":"year","type":"quantitative","scale":{"domain":[2000,2050],"nice":false},
"axis":{"title":null,"format":"d","values":[2000,2001,2002,2003,2004,2005,2006,2007,2008,2009,2010,2011,2012,2013,2014,2015,2016,2017,2018,2019,2020,2021,2022,2023,2024,2025,2026,2027,2028,2029,2030,2031,2032,2033,2034,2035,2036,2037,2038,2039,2040,2041,2042,2043,2044,2045,2046,2047,2048,2049,2050],
"labelExpr":"datum.value % 10 === 0 ? datum.label : ''","tickSize":-6,"tickWidth":2,"labelPadding":10,"labelFlush":false,"labelOverlap":false}},
"y":{"field":"y1","type":"quantitative","scale":{"domain":[0,100],"nice":false},
"axis":{"title":null,"values":[0,10,20,30,40,50,60,70,80,90,100],"labelExpr":"datum.value + '%'","tickSize":5,"tickWidth":1.5,"labelPadding":12}}
},
"layer":[
{"transform":[{"filter":"datum.key === 'Solar'"}],"mark":{"type":"area","fill":{"expr":"gSolarA"}},"encoding":{"y2":{"datum":0}}},
{"transform":[{"filter":"datum.key === 'Solar'"}],"mark":{"type":"area","fill":{"expr":"gSolarB"}},"encoding":{"y2":{"datum":0}}},
{"transform":[{"filter":"datum.key === 'Hydro'"}],"mark":{"type":"area","color":"#bfc6d6"},"encoding":{"y2":{"datum":0}}},
{"transform":[{"filter":"datum.key !== 'Solar' && datum.key !== 'Other renewables'"}],"mark":{"type":"area"},
"encoding":{"y2":{"field":"y0"},
"color":{"field":"key","type":"nominal",
"scale":{"domain":["Coal","Gas","Oil","Nuclear","Hydro","Solar","Wind","Other renewables"],"range":["#4f81bd","#cccccc","#a7b9e1","#939393","#eef2fa",{"expr":"gLegSolar"},"#44546a",{"expr":"gLegOther"}]},
"legend":{"title":null,"orient":"none","direction":"horizontal","legendX":10,"legendY":-116,"columns":3,"columnPadding":50,"rowPadding":2,"fillColor":"#e8e8e8","padding":7.5,
"labelFont":"Liberation Sans","labelFontSize":16,"labelColor":"#000000","labelOffset":14,
"symbolType":"M-1,-0.47H1V0.47H-1Z","symbolSize":1024,"symbolStrokeWidth":0,"symbolOpacity":1}}}},
{"transform":[{"filter":"datum.key === 'Other renewables'"}],"mark":{"type":"area","fill":{"expr":"gOther"}},"encoding":{"y2":{"field":"y0"}}}
]
},
{
"width":500,"height":562,
"data":{"name":"right"},
"transform":[
{"fold":["Coal","Gas","Oil","Nuclear","Hydro","Solar","Wind","Other renewables"],"as":["key","value"]},
{"stack":"value","groupby":["year"],"as":["y0","y1"]}
],
"encoding":{
"x":{"field":"year","type":"quantitative","scale":{"domain":[2000,2050],"nice":false},
"axis":{"title":null,"format":"d","values":[2000,2001,2002,2003,2004,2005,2006,2007,2008,2009,2010,2011,2012,2013,2014,2015,2016,2017,2018,2019,2020,2021,2022,2023,2024,2025,2026,2027,2028,2029,2030,2031,2032,2033,2034,2035,2036,2037,2038,2039,2040,2041,2042,2043,2044,2045,2046,2047,2048,2049,2050],
"labelExpr":"datum.value % 10 === 0 ? datum.label : ''","tickSize":-6,"tickWidth":2,"labelPadding":10,"labelFlush":false,"labelOverlap":false}},
"y":{"field":"y1","type":"quantitative","scale":{"domain":[0,100],"nice":false},
"axis":{"title":null,"values":[0,10,20,30,40,50,60,70,80,90,100],"format":"d","tickSize":5,"tickWidth":1.5,"labelPadding":12}}
},
"layer":[
{"transform":[{"filter":"datum.key === 'Solar'"}],"mark":{"type":"area","fill":{"expr":"gSolarA"}},"encoding":{"y2":{"datum":0}}},
{"transform":[{"filter":"datum.key === 'Solar'"}],"mark":{"type":"area","fill":{"expr":"gSolarB"}},"encoding":{"y2":{"datum":0}}},
{"transform":[{"filter":"datum.key === 'Hydro'"}],"mark":{"type":"area","color":"#bfc6d6"},"encoding":{"y2":{"datum":0}}},
{"transform":[{"filter":"datum.key !== 'Solar' && datum.key !== 'Other renewables'"}],"mark":{"type":"area"},
"encoding":{"y2":{"field":"y0"},
"color":{"field":"key","type":"nominal",
"scale":{"domain":["Coal","Gas","Oil","Nuclear","Hydro","Solar","Wind","Other renewables"],"range":["#4f81bd","#cccccc","#a7b9e1","#939393","#eef2fa",{"expr":"gLegSolar"},"#44546a",{"expr":"gLegOther"}]},
"legend":null}}},
{"transform":[{"filter":"datum.key === 'Other renewables'"}],"mark":{"type":"area","fill":{"expr":"gOther"}},"encoding":{"y2":{"field":"y0"}}}
]
}
],
"config":{
"font":"Liberation Sans",
"view":{"stroke":"#555555","strokeWidth":1},
"axis":{"labelFont":"Liberation Sans","labelFontSize":16,"labelColor":"#000000","domainColor":"#000000","domainWidth":2,"tickColor":"#000000","grid":false,"zindex":1}
}
}
